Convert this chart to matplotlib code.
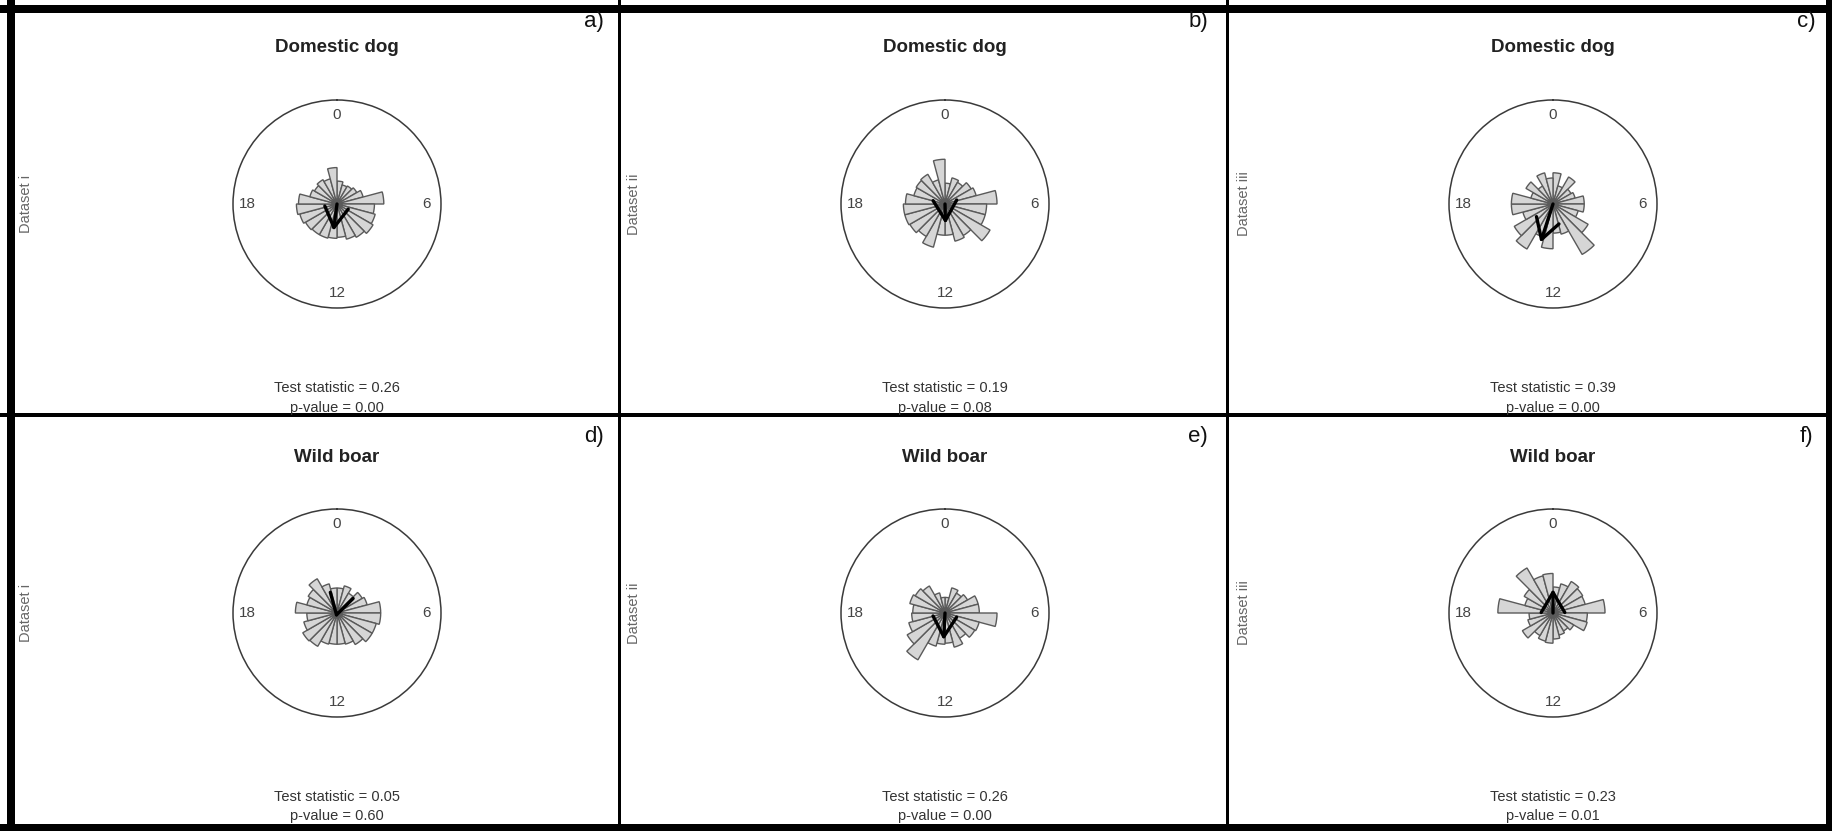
import numpy as np
import matplotlib
matplotlib.use("Agg")
import matplotlib.pyplot as plt
from matplotlib.lines import Line2D

plt.rcParams['font.family'] = ['Liberation Sans', 'DejaVu Sans']

W, H = 1833, 831

# ---------------- data ----------------
species = ["Domestic dog", "Domestic dog", "Domestic dog",
           "Wild boar", "Wild boar", "Wild boar"]
datasets = ["Dataset i", "Dataset ii", "Dataset iii",
            "Dataset i", "Dataset ii", "Dataset iii"]
letters = ["a)", "b)", "c)", "d)", "e)", "f)"]
test_stat = [0.26, 0.19, 0.39, 0.05, 0.26, 0.23]
p_values = [0.00, 0.08, 0.00, 0.60, 0.00, 0.01]
mean_hour = [12.5, 11.9, 13.2, 13.0, 12.2, 0.0]

hour_bins = list(range(24))
# bar radius per hourly bin (fraction of circle radius)
dog_i = [0.22, 0.19, 0.20, 0.22, 0.26, 0.45, 0.36, 0.38, 0.40, 0.37, 0.35, 0.32,
         0.33, 0.34, 0.34, 0.35, 0.37, 0.39, 0.37, 0.27, 0.25, 0.27, 0.25, 0.35]
dog_ii = [0.20, 0.26, 0.24, 0.29, 0.31, 0.50, 0.40, 0.40, 0.50, 0.35, 0.37, 0.30,
          0.30, 0.43, 0.36, 0.39, 0.40, 0.40, 0.38, 0.31, 0.32, 0.33, 0.24, 0.43]
dog_iii = [0.30, 0.18, 0.30, 0.20, 0.22, 0.30, 0.30, 0.25, 0.39, 0.56, 0.30, 0.28,
           0.43, 0.33, 0.50, 0.43, 0.30, 0.40, 0.40, 0.22, 0.30, 0.20, 0.31, 0.25]
boar_i = [0.24, 0.27, 0.22, 0.28, 0.30, 0.42, 0.42, 0.39, 0.39, 0.35, 0.31, 0.30,
          0.30, 0.31, 0.37, 0.38, 0.33, 0.29, 0.40, 0.30, 0.32, 0.38, 0.29, 0.24]
boar_ii = [0.15, 0.25, 0.22, 0.25, 0.33, 0.33, 0.50, 0.34, 0.33, 0.28, 0.34, 0.29,
           0.30, 0.33, 0.52, 0.42, 0.36, 0.32, 0.31, 0.35, 0.33, 0.30, 0.20, 0.15]
boar_iii = [0.25, 0.29, 0.35, 0.33, 0.32, 0.50, 0.33, 0.34, 0.23, 0.20, 0.22, 0.25,
            0.29, 0.28, 0.25, 0.34, 0.25, 0.23, 0.53, 0.28, 0.32, 0.50, 0.37, 0.38]
radii_all = [dog_i, dog_ii, dog_iii, boar_i, boar_ii, boar_iii]

# ---------------- layout (pixels) ----------------
centers_x = [337, 945, 1553]
centers_y = [204, 613]
R_PX = 104
title_y = [47, 457]
stat_y = [388, 797]
pval_y = [408, 816]
dataset_x = [26, 634, 1244]
letter_x = [594, 1198, 1806]
letter_y = [22, 437]

fig = plt.figure(figsize=(W / 100, H / 100), dpi=100)
fig.patch.set_facecolor("white")


def fx(x):
    return x / W


def fy(y):
    return 1 - y / H


for i in range(6):
    row, col = divmod(i, 3)
    cx, cy = centers_x[col], centers_y[row]
    ax = fig.add_axes([fx(cx - R_PX), fy(cy + R_PX), 2 * R_PX / W, 2 * R_PX / H],
                      projection="polar")
    ax.set_theta_zero_location("N")
    ax.set_theta_direction(-1)
    ax.set_ylim(0, 1)
    ax.grid(False)
    ax.set_yticks([])
    ax.set_xticks(np.deg2rad(np.arange(0, 360, 15)))
    ax.set_xticklabels([])
    ax.tick_params(axis="x", direction="out", length=2.5, width=0.8, colors="#555555")
    ax.spines["polar"].set_color("#3a3a3a")
    ax.spines["polar"].set_linewidth(1.1)

    theta = np.deg2rad((np.array(hour_bins) + 0.5) * 15)
    ax.bar(theta, radii_all[i], width=np.deg2rad(15), bottom=0, align="center",
           color="#d6d6d6", edgecolor="#5a5a5a", linewidth=1.0, zorder=2)

    for lab, hr in [("0", 0), ("6", 6), ("12", 12), ("18", 18)]:
        ax.text(np.deg2rad(hr * 15), 0.86, lab, ha="center", va="center",
                fontsize=11, color="#444444")

    tm = np.deg2rad(mean_hour[i] * 15)
    ax.annotate("", xy=(tm, test_stat[i]), xytext=(tm, 0), xycoords="data",
                arrowprops=dict(arrowstyle="->,head_length=1.45,head_width=0.85",
                                lw=2.4, color="black", shrinkA=0, shrinkB=0,
                                mutation_scale=10), zorder=5)

    fig.text(fx(cx), fy(title_y[row]), species[i], ha="center", va="center",
             fontsize=13.5, fontweight="bold", color="#222222")
    fig.text(fx(cx), fy(stat_y[row]), f"Test statistic = {test_stat[i]:.2f}",
             ha="center", va="center", fontsize=10.5, color="#333333")
    fig.text(fx(cx), fy(pval_y[row]), f"p-value = {p_values[i]:.2f}",
             ha="center", va="center", fontsize=10.5, color="#333333")
    fig.text(fx(dataset_x[col]), fy(cy), datasets[i], rotation=90,
             ha="center", va="center", fontsize=10.5, color="#666666")
    fig.text(fx(letter_x[col]), fy(letter_y[row]), letters[i], ha="center",
             va="center", fontsize=16, color="#111111")

# ---------------- panel borders ----------------
def vline(x, w):
    fig.add_artist(Line2D([fx(x), fx(x)], [0, 1], lw=w * 0.72, color="black"))


def hline(y, w):
    fig.add_artist(Line2D([0, 1], [fy(y), fy(y)], lw=w * 0.72, color="black"))


vline(11, 8)
vline(1829, 7)
vline(618.5, 3)
vline(1227.5, 3)
hline(9, 8)
hline(827, 7)
hline(415, 4)

fig.savefig("out.png", dpi=100, facecolor="white")
